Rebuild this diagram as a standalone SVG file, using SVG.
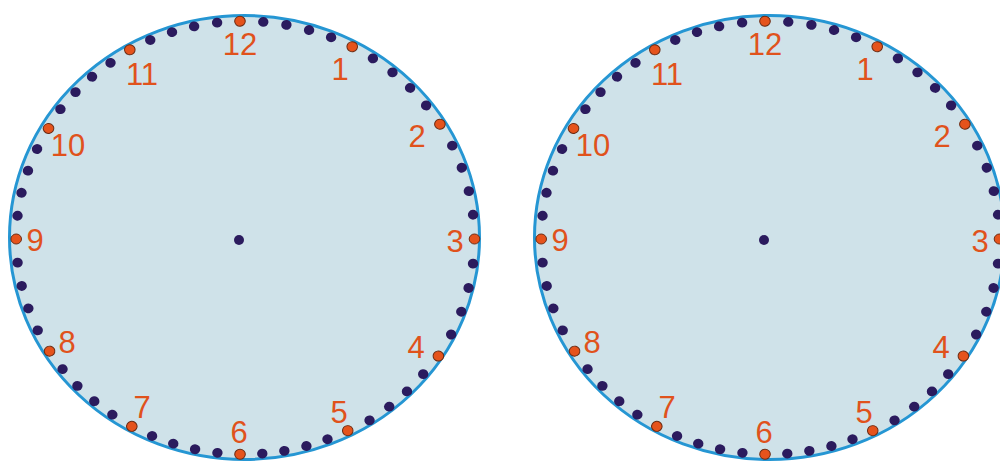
<svg xmlns="http://www.w3.org/2000/svg" xmlns:xlink="http://www.w3.org/1999/xlink" width="1000" height="462" viewBox="0 0 1000 462">
<style>
.face{fill:#cfe2e9;stroke:#2596d3;stroke-width:3}
.min{fill:#2b1b5e}
.hr{fill:#e5531c;stroke:#6a2a12;stroke-width:1}
.num{fill:#e0521c;font-family:"Liberation Sans",Arial,sans-serif;font-size:31px;text-anchor:middle}
</style>
<defs>
<circle id="mA" class="min" cx="0" cy="-230.5" r="5.2"/>
<circle id="mB" class="min" cx="0" cy="-229.3" r="5.2"/>
<circle id="mC" class="min" cx="0" cy="-227.8" r="5.2"/>
<circle id="hA" class="hr" cx="0" cy="-230.5" r="5.3"/>
<circle id="hC" class="hr" cx="0" cy="-227.8" r="5.3"/>
<g id="ring">
<use href="#mA" transform="rotate(4.8)"/><use href="#mA" transform="rotate(10.6)"/><use href="#mA" transform="rotate(16.4)"/><use href="#mA" transform="rotate(22.2)"/>
<use href="#mA" transform="rotate(34)"/><use href="#mA" transform="rotate(40.1)"/><use href="#mA" transform="rotate(46.1)"/><use href="#mA" transform="rotate(52.2)"/>
<use href="#mA" transform="rotate(64.6)"/><use href="#mA" transform="rotate(70.9)"/><use href="#mA" transform="rotate(77.3)"/><use href="#mA" transform="rotate(83.6)"/>
<use href="#mA" transform="rotate(96.5)"/><use href="#mA" transform="rotate(103)"/><use href="#mA" transform="rotate(109.5)"/><use href="#mA" transform="rotate(116)"/>
<use href="#mB" transform="rotate(128.6)"/><use href="#mB" transform="rotate(134.7)"/><use href="#mB" transform="rotate(140.7)"/><use href="#mB" transform="rotate(146.8)"/>
<use href="#mC" transform="rotate(158.5)"/><use href="#mC" transform="rotate(164.1)"/><use href="#mC" transform="rotate(169.8)"/><use href="#mC" transform="rotate(175.4)"/>
<use href="#mC" transform="rotate(186.7)"/><use href="#mC" transform="rotate(192.4)"/><use href="#mC" transform="rotate(198.1)"/><use href="#mC" transform="rotate(203.8)"/>
<use href="#mC" transform="rotate(215.3)"/><use href="#mC" transform="rotate(221.1)"/><use href="#mC" transform="rotate(227)"/><use href="#mC" transform="rotate(232.8)"/>
<use href="#mC" transform="rotate(244.9)"/><use href="#mC" transform="rotate(251.2)"/><use href="#mC" transform="rotate(257.4)"/><use href="#mC" transform="rotate(263.7)"/>
<use href="#mC" transform="rotate(276.2)"/><use href="#mC" transform="rotate(282.4)"/><use href="#mC" transform="rotate(288.5)"/><use href="#mC" transform="rotate(294.7)"/>
<use href="#mB" transform="rotate(306.8)"/><use href="#mB" transform="rotate(312.7)"/><use href="#mB" transform="rotate(318.5)"/><use href="#mB" transform="rotate(324.4)"/>
<use href="#mA" transform="rotate(336)"/><use href="#mA" transform="rotate(341.8)"/><use href="#mA" transform="rotate(347.5)"/><use href="#mA" transform="rotate(353.3)"/>
<use href="#hA" transform="rotate(-1)"/><use href="#hA" transform="rotate(28)"/><use href="#hA" transform="rotate(58.2)"/><use href="#hA" transform="rotate(90)"/>
<use href="#hA" transform="rotate(122.5)"/><use href="#hC" transform="rotate(152.9)"/><use href="#hC" transform="rotate(181)"/><use href="#hC" transform="rotate(209.5)"/>
<use href="#hC" transform="rotate(238.6)"/><use href="#hC" transform="rotate(270)"/><use href="#hC" transform="rotate(300.9)"/><use href="#hA" transform="rotate(330.3)"/>
</g>
</defs>
<rect width="1000" height="462" fill="#ffffff"/>
<g id="clock-left">
<ellipse class="face" cx="244.5" cy="237.5" rx="235" ry="222"/>
<use href="#ring" transform="translate(244,239) scale(1,0.945)"/>
<circle class="min" cx="239" cy="240" r="5"/>
<text class="num" x="240" y="55">12</text>
<text class="num" x="340" y="80">1</text>
<text class="num" x="417" y="147">2</text>
<text class="num" x="455" y="252">3</text>
<text class="num" x="416" y="358">4</text>
<text class="num" x="339" y="423">5</text>
<text class="num" x="239" y="443">6</text>
<text class="num" x="142" y="418">7</text>
<text class="num" x="67" y="353">8</text>
<text class="num" x="35" y="251">9</text>
<text class="num" x="68" y="156">10</text>
<text class="num" x="142" y="85">11</text>
</g>
<g id="clock-right" transform="translate(525,0)">
<ellipse class="face" cx="244.5" cy="237.5" rx="235" ry="222"/>
<use href="#ring" transform="translate(244,239) scale(1,0.945)"/>
<circle class="min" cx="239" cy="240" r="5"/>
<text class="num" x="240" y="55">12</text>
<text class="num" x="340" y="80">1</text>
<text class="num" x="417" y="147">2</text>
<text class="num" x="455" y="252">3</text>
<text class="num" x="416" y="358">4</text>
<text class="num" x="339" y="423">5</text>
<text class="num" x="239" y="443">6</text>
<text class="num" x="142" y="418">7</text>
<text class="num" x="67" y="353">8</text>
<text class="num" x="35" y="251">9</text>
<text class="num" x="68" y="156">10</text>
<text class="num" x="142" y="85">11</text>
</g>
</svg>
